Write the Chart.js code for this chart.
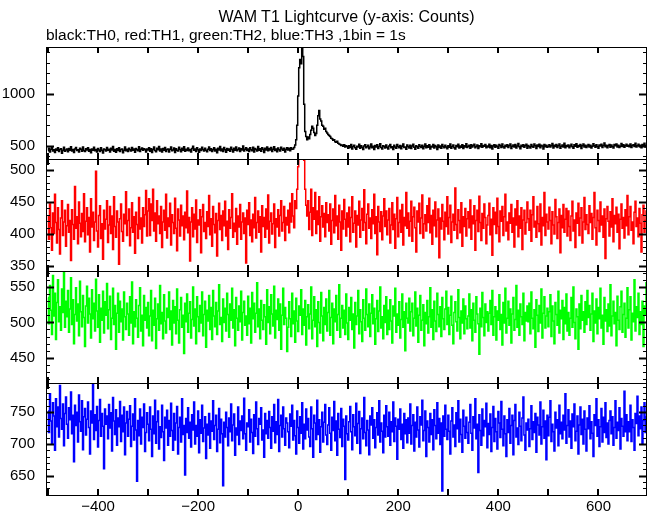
<!DOCTYPE html>
<html>
<head>
<meta charset="utf-8">
<title>WAM T1 Lightcurve</title>
<script src="https://cdn.jsdelivr.net/npm/chart.js@4.4.0/dist/chart.umd.min.js"></script>
<style>
  body { margin: 0; background: #fff; }
  #wrap { position: relative; width: 652px; height: 515px; font-family: "Liberation Sans", Arial, sans-serif; color: #000; }
  #title { position: absolute; left: 46px; width: 601px; top: 7px; text-align: center; font-size: 16px; line-height: 19px; }
  #sub { position: absolute; left: 46px; top: 25px; font-size: 15.5px; line-height: 19px; white-space: nowrap; }
  canvas { position: absolute; left: 0; top: 0; }
</style>
</head>
<body>
<div id="wrap">
  <canvas id="lc" width="652" height="515"></canvas>
  <div id="title">WAM T1 Lightcurve (y-axis: Counts)</div>
  <div id="sub">black:TH0, red:TH1, green:TH2, blue:TH3 ,1bin = 1s</div>
</div>
<script>
// counts, one value every 2 s starting at t = -500 s
var binStart = -500, binWidth = 2;

var th0 = [
  455, 478, 441, 468, 490, 452, 463, 437, 471, 459, 482, 446, 466, 474, 431, 458, 487, 449, 462, 470,
  444, 476, 459, 493, 451, 467, 438, 472, 485, 456, 463, 442, 479, 468, 450, 491, 457, 446, 473, 461,
  482, 449, 465, 436, 470, 458, 488, 453, 467, 441, 475, 462, 447, 484, 459, 433, 471, 464, 452, 486,
  458, 469, 443, 477, 461, 495, 450, 466, 439, 474, 457, 483, 448, 465, 472, 436, 460, 489, 454, 468,
  447, 479, 463, 452, 486, 459, 471, 440, 476, 464, 455, 492, 448, 469, 481, 458, 474, 466, 443, 470,
  461, 484, 450, 473, 438, 467, 489, 456, 445, 478, 463, 496, 452, 470, 441, 476, 459, 485, 448, 465,
  472, 443, 468, 490, 455, 462, 480, 437, 474, 458, 451, 487, 466, 445, 477, 460, 493, 449, 469, 456,
  481, 453, 466, 442, 475, 497, 459, 470, 448, 484, 463, 439, 472, 456, 488, 467, 451, 479, 460, 445,
  468, 490, 457, 474, 446, 463, 482, 452, 469, 436, 477, 461, 494, 455, 471, 448, 485, 464, 440, 476,
  459, 472, 449, 487, 465, 443, 478, 458, 491, 453, 467, 480, 446, 474, 462, 499, 451, 469, 483, 457,
  470, 447, 482, 463, 455, 488, 441, 476, 466, 452, 495, 460, 473, 449, 484, 468, 437, 479, 462, 490,
  454, 475, 461, 486, 448, 469, 493, 457, 472, 445, 481, 464, 452, 488, 470, 459, 477, 443, 466, 483,
  462, 478, 455, 484, 468, 470, 485, 510, 560, 700, 980, 1250, 1330, 1290, 1480, 1360, 900, 640, 590, 560,
  585, 570, 610, 650, 690, 670, 630, 600, 620, 700, 790, 840, 760, 740, 700, 690, 660, 670, 640, 625,
  610, 600, 590, 575, 570, 555, 560, 540, 535, 545, 525, 520, 515, 505, 510, 498, 512, 489, 503, 494,
  478, 501, 486, 514, 472, 495, 508, 483, 469, 497, 490, 516, 477, 503, 488, 465, 499, 511, 484, 493,
  506, 474, 491, 518, 482, 498, 467, 505, 489, 512, 476, 494, 521, 485, 470, 502, 496, 480, 509, 487,
  471, 499, 513, 484, 492, 466, 507, 490, 478, 515, 495, 482, 504, 473, 498, 519, 486, 491, 468, 510,
  494, 481, 506, 475, 500, 517, 488, 469, 503, 492, 479, 512, 497, 485, 508, 474, 496, 520, 483, 501,
  487, 511, 472, 498, 490, 515, 480, 505, 493, 467, 509, 486, 500, 478, 514, 495, 482, 506, 489, 473,
  502, 488, 519, 477, 496, 510, 484, 471, 505, 493, 516, 481, 499, 487, 512, 476, 503, 491, 522, 485,
  498, 506, 479, 512, 490, 503, 517, 484, 496, 509, 475, 501, 493, 522, 488, 505, 497, 514, 482, 500,
  491, 516, 483, 504, 470, 499, 511, 487, 508, 494, 478, 513, 501, 486, 520, 492, 480, 507, 496, 512,
  485, 502, 518, 476, 497, 509, 489, 514, 481, 500, 524, 492, 474, 506, 495, 511, 488, 503, 517, 479,
  505, 493, 481, 514, 498, 487, 520, 502, 476, 510, 495, 517, 484, 507, 499, 471, 513, 492, 506, 488,
  497, 512, 489, 503, 523, 480, 508, 494, 515, 486, 501, 519, 477, 498, 510, 491, 526, 484, 504, 496,
  509, 483, 500, 516, 492, 479, 511, 498, 521, 487, 505, 494, 513, 476, 502, 518, 490, 507, 485, 499,
  514, 490, 506, 481, 497, 522, 503, 488, 511, 495, 478, 509, 500, 517, 486, 504, 529, 493, 508, 482,
  501, 515, 487, 509, 496, 480, 513, 502, 519, 490, 506, 485, 498, 523, 494, 511, 488, 503, 516, 497,
  507, 492, 520, 485, 504, 511, 496, 525, 489, 502, 517, 494, 508, 483, 513, 499, 527, 491, 505, 510
];

var th1 = [
  428, 392, 447, 410, 375, 433, 401, 462, 418, 386, 441, 407, 369, 425, 452, 398, 419, 437, 381, 413,
  446, 403, 421, 359, 438, 415, 392, 474, 409, 427, 385, 450, 417, 396, 432, 404, 463, 388, 420, 441,
  399, 426, 372, 455, 411, 434, 390, 419, 498, 405, 380, 429, 444, 393, 416, 361, 437, 408, 423, 452,
  387, 414, 443, 401, 428, 376, 458, 412, 395, 436, 419, 353, 424, 447, 404, 389, 431, 416, 466, 398,
  421, 439, 382, 410, 449, 403, 427, 370, 434, 415, 393, 457, 408, 425, 386, 441, 412, 430, 468, 397,
  436, 455, 398, 447, 421, 470, 405, 433, 389, 452, 416, 428, 401, 443, 379, 419, 437, 406, 462, 394,
  425, 412, 448, 383, 430, 418, 401, 456, 409, 374, 439, 422, 397, 445, 413, 428, 391, 434, 410, 467,
  402, 426, 358, 419, 441, 396, 431, 408, 453, 387, 422, 414, 438, 371, 427, 446, 404, 418, 393, 435,
  412, 460, 399, 424, 381, 443, 415, 402, 432, 366, 421, 448, 407, 429, 390, 436, 413, 451, 397, 420,
  376, 438, 409, 426, 463, 395, 417, 404, 440, 384, 428, 411, 446, 392, 419, 433, 401, 425, 355, 437,
  415, 449, 398, 422, 388, 431, 410, 457, 394, 418, 436, 403, 427, 372, 444, 412, 426, 395, 439, 408,
  461, 386, 420, 433, 400, 416, 447, 379, 424, 411, 438, 397, 429, 452, 405, 418, 443, 390, 426, 414,
  437, 402, 448, 419, 463, 428, 410, 452, 440, 470, 505, 535, 520, 550, 530, 540, 515, 470, 445, 428,
  452, 407, 434, 470, 398, 441, 423, 465, 401, 436, 415, 458, 389, 427, 444, 411, 432, 396, 449, 418,
  430, 405, 447, 384, 421, 439, 402, 460, 413, 428, 392, 445, 419, 375, 436, 408, 454, 423, 397, 433,
  411, 442, 388, 426, 458, 403, 417, 436, 380, 429, 414, 451, 395, 422, 440, 406, 469, 418, 385, 431,
  447, 409, 425, 393, 438, 416, 462, 401, 427, 368, 443, 419, 404, 435, 391, 428, 455, 412, 436, 399,
  422, 440, 386, 414, 449, 407, 431, 378, 424, 457, 396, 418, 437, 403, 446, 383, 426, 413, 465, 409,
  433, 397, 420, 451, 389, 427, 442, 410, 372, 436, 419, 448, 401, 425, 461, 394, 416, 430, 405, 444,
  418, 456, 402, 429, 384, 437, 413, 450, 396, 422, 439, 363, 425, 408, 446, 420, 391, 434, 412, 458,
  400, 426, 445, 387, 419, 431, 406, 472, 415, 393, 438, 421, 402, 449, 381, 427, 412, 440, 397, 424,
  435, 410, 453, 392, 428, 416, 444, 375, 421, 437, 404, 459, 418, 390, 432, 409, 447, 426, 385, 414,
  429, 448, 399, 423, 367, 441, 415, 434, 401, 456, 412, 388, 436, 420, 443, 398, 427, 462, 405, 419,
  391, 433, 417, 446, 403, 425, 380, 439, 414, 452, 396, 428, 409, 441, 376, 422, 437, 400, 418, 450,
  424, 406, 437, 389, 430, 458, 411, 420, 395, 443, 416, 404, 447, 383, 426, 413, 465, 398, 431, 419,
  408, 442, 421, 385, 435, 414, 400, 454, 427, 393, 418, 439, 371, 429, 410, 446, 403, 423, 440, 397,
  436, 412, 390, 428, 451, 405, 422, 379, 433, 417, 448, 398, 425, 441, 386, 419, 457, 407, 430, 415,
  401, 444, 418, 432, 392, 426, 465, 410, 383, 437, 421, 404, 450, 414, 428, 395, 439, 362, 424, 443,
  420, 397, 435, 411, 455, 388, 429, 416, 442, 403, 431, 377, 423, 447, 409, 426, 394, 438, 413, 460,
  399, 427, 443, 406, 419, 385, 434, 451, 412, 425, 396, 440, 417, 372, 430, 445, 403, 421, 436, 408
];

var th2 = [
  535, 498, 552, 517, 483, 566, 509, 541, 476, 528, 560, 501, 522, 489, 547, 514, 575, 493, 530, 508,
  545, 486, 519, 563, 497, 532, 470, 511, 549, 502, 526, 481, 558, 515, 494, 538, 507, 466, 523, 551,
  499, 534, 512, 478, 546, 505, 527, 488, 561, 516, 493, 539, 472, 520, 503, 544, 485, 529, 510, 555,
  491, 518, 537, 476, 506, 548, 497, 524, 462, 513, 541, 486, 530, 501, 519, 475, 543, 508, 490, 527,
  512, 482, 536, 499, 557, 470, 515, 494, 532, 506, 479, 524, 549, 488, 510, 467, 538, 503, 521, 492,
  528, 481, 509, 545, 474, 517, 496, 534, 463, 505, 526, 489, 552, 498, 514, 477, 539, 502, 485, 520,
  507, 543, 490, 516, 468, 531, 499, 522, 484, 547, 503, 471, 518, 535, 493, 510, 456, 527, 501, 540,
  486, 513, 529, 478, 504, 550, 495, 519, 470, 536, 508, 487, 524, 499, 543, 481, 511, 530, 465, 517,
  502, 538, 490, 521, 476, 545, 509, 494, 528, 483, 516, 553, 497, 507, 473, 533, 500, 520, 488, 541,
  511, 479, 526, 503, 548, 492, 518, 467, 535, 506, 489, 523, 501, 544, 475, 514, 530, 496, 509, 482,
  537, 498, 520, 471, 542, 505, 527, 486, 513, 556, 494, 519, 477, 531, 503, 490, 525, 508, 469, 546,
  500, 522, 484, 539, 512, 495, 551, 478, 517, 504, 533, 489, 526, 462, 510, 548, 497, 521, 506, 459,
  493, 529, 505, 480, 541, 498, 516, 472, 534, 502, 487, 523, 510, 546, 483, 519, 496, 531, 468, 508,
  525, 491, 512, 550, 477, 503, 536, 494, 518, 466, 529, 500, 485, 542, 509, 474, 521, 497, 533, 488,
  514, 545, 482, 507, 527, 470, 519, 501, 538, 489, 511, 553, 479, 506, 524, 492, 517, 483, 540, 499,
  476, 521, 503, 535, 490, 512, 464, 528, 497, 509, 545, 484, 518, 501, 473, 532, 506, 489, 547, 511,
  494, 526, 480, 513, 539, 498, 520, 469, 505, 531, 487, 516, 550, 492, 508, 477, 524, 500, 536, 483,
  517, 490, 532, 502, 471, 523, 509, 548, 486, 512, 496, 529, 478, 504, 540, 493, 515, 460, 527, 506,
  499, 534, 488, 515, 527, 481, 506, 543, 495, 520, 472, 510, 538, 489, 503, 525, 467, 514, 498, 531,
  485, 508, 549, 493, 518, 476, 530, 502, 487, 541, 511, 494, 522, 480, 535, 505, 490, 519, 544, 497,
  521, 483, 510, 537, 496, 470, 514, 529, 501, 488, 546, 507, 477, 516, 499, 533, 484, 523, 505, 491,
  509, 540, 492, 518, 474, 527, 503, 486, 536, 512, 498, 455, 520, 494, 542, 507, 481, 526, 500, 515,
  488, 513, 531, 497, 545, 482, 508, 522, 475, 516, 503, 539, 490, 511, 468, 528, 499, 548, 485, 506,
  530, 496, 519, 471, 512, 535, 489, 504, 552, 493, 517, 482, 526, 508, 497, 541, 474, 514, 502, 523,
  501, 527, 484, 543, 506, 491, 518, 465, 532, 510, 487, 524, 499, 547, 478, 513, 536, 492, 509, 520,
  494, 515, 539, 480, 523, 502, 470, 528, 511, 496, 544, 485, 517, 505, 531, 476, 521, 498, 540, 488,
  514, 482, 506, 535, 493, 550, 500, 477, 519, 508, 462, 526, 491, 538, 503, 515, 486, 529, 497, 545,
  507, 524, 489, 512, 541, 473, 516, 499, 533, 484, 521, 505, 548, 492, 510, 469, 535, 502, 518, 487,
  526, 495, 553, 481, 509, 530, 498, 514, 467, 537, 503, 490, 522, 544, 486, 511, 527, 479, 506, 549,
  492, 518, 536, 475, 513, 501, 560, 488, 522, 507, 541, 483, 515, 497, 530, 466, 523, 510, 556, 499
];

var th3 = [
  752, 718, 779, 736, 701, 765, 744, 690, 771, 727, 758, 711, 792, 740, 723, 763, 697, 748, 774, 731,
  709, 757, 738, 782, 716, 745, 672, 761, 729, 750, 703, 777, 735, 720, 768, 691, 743, 756, 714, 739,
  766, 726, 684, 752, 733, 798, 707, 746, 721, 759, 695, 737, 770, 712, 748, 728, 661, 755, 731, 744,
  708, 762, 725, 749, 689, 773, 736, 715, 754, 698, 741, 727, 767, 704, 745, 719, 758, 683, 733, 751,
  712, 739, 760, 696, 728, 747, 706, 771, 722, 641, 737, 713, 755, 700, 742, 726, 763, 688, 718, 749,
  731, 705, 758, 723, 680, 744, 716, 769, 701, 735, 752, 692, 727, 710, 761, 719, 674, 742, 725, 753,
  698, 737, 712, 764, 721, 690, 748, 706, 733, 759, 684, 726, 742, 703, 771, 715, 729, 651, 740, 718,
  757, 709, 734, 695, 746, 722, 766, 700, 729, 712, 752, 686, 738, 717, 761, 704, 725, 743, 677, 731,
  714, 748, 693, 736, 720, 768, 707, 729, 745, 688, 723, 756, 702, 739, 716, 634, 734, 711, 750, 726,
  697, 741, 719, 763, 705, 730, 747, 682, 725, 714, 758, 699, 736, 721, 744, 708, 772, 716, 690, 733,
  727, 754, 703, 739, 718, 685, 746, 712, 766, 724, 699, 740, 731, 757, 706, 722, 679, 748, 716, 737,
  709, 751, 726, 693, 743, 720, 762, 702, 735, 715, 770, 688, 729, 745, 711, 758, 724, 698, 741, 733,
  719, 694, 747, 728, 761, 706, 737, 713, 684, 752, 726, 701, 743, 717, 765, 692, 731, 708, 755, 722,
  740, 711, 696, 758, 724, 679, 745, 733, 707, 769, 715, 738, 687, 727, 750, 703, 734, 762, 714, 699,
  730, 757, 717, 690, 742, 721, 767, 705, 736, 682, 748, 723, 710, 756, 696, 739, 728, 644, 744, 716,
  706, 735, 759, 719, 691, 746, 727, 713, 764, 701, 732, 751, 685, 724, 741, 708, 773, 718, 697, 737,
  722, 683, 744, 730, 757, 709, 738, 694, 726, 749, 714, 768, 703, 733, 720, 686, 745, 711, 760, 727,
  712, 750, 698, 735, 719, 766, 704, 741, 728, 676, 739, 723, 755, 707, 731, 693, 748, 716, 738, 702,
  741, 717, 763, 700, 729, 746, 689, 734, 711, 758, 722, 695, 743, 730, 769, 705, 721, 752, 680, 736,
  726, 703, 748, 715, 738, 691, 754, 729, 708, 765, 717, 740, 699, 733, 626, 744, 712, 761, 723, 707,
  745, 720, 684, 736, 757, 711, 730, 696, 749, 724, 768, 703, 739, 715, 687, 753, 728, 709, 742, 718,
  701, 734, 762, 717, 690, 743, 725, 771, 708, 731, 655, 746, 721, 698, 755, 713, 737, 727, 764, 694,
  732, 715, 747, 688, 726, 759, 704, 740, 719, 692, 751, 733, 710, 767, 723, 697, 744, 716, 680, 738,
  718, 756, 701, 729, 745, 683, 737, 762, 711, 725, 699, 750, 728, 705, 741, 774, 714, 690, 733, 722,
  739, 696, 724, 760, 707, 735, 718, 748, 687, 742, 730, 714, 766, 700, 727, 753, 709, 736, 675, 745,
  713, 742, 768, 704, 731, 719, 689, 750, 725, 738, 697, 761, 716, 734, 708, 745, 722, 779, 701, 729,
  754, 711, 736, 693, 747, 727, 763, 705, 720, 744, 684, 730, 758, 715, 739, 700, 752, 723, 689, 741,
  724, 760, 708, 735, 717, 680, 746, 729, 771, 712, 738, 696, 727, 756, 703, 742, 718, 765, 710, 733,
  700, 737, 752, 716, 743, 698, 726, 768, 709, 734, 721, 757, 692, 740, 728, 712, 783, 719, 746, 705,
  735, 719, 761, 704, 738, 726, 690, 748, 732, 775, 713, 744, 724, 758, 701, 737, 765, 718, 743, 729
];

// tick labels
var xTickLabels = [-400, -200, 0, 200, 400, 600];
var xTickMarks = [-500, -400, -300, -200, -100, 0, 100, 200, 300, 400, 500, 600];
var th0Ticks = [500, 1000];
var th1Ticks = [350, 400, 450, 500];
var th2Ticks = [450, 500, 550];
var th3Ticks = [650, 700, 750];

// panels, top to bottom
var panels = [
  { id: 'y0', data: th0, color: '#000000', min: 375, max: 1450, ticks: th0Ticks, minor: 100 },
  { id: 'y1', data: th1, color: '#ff0000', min: 342.5, max: 517, ticks: th1Ticks, minor: 10 },
  { id: 'y2', data: th2, color: '#00ff00', min: 414.5, max: 572.5, ticks: th2Ticks, minor: 10 },
  { id: 'y3', data: th3, color: '#0000ff', min: 619.5, max: 796, ticks: th3Ticks, minor: 10 }
];

function toPoints(arr) {
  return arr.map(function (v, i) { return { x: binStart + i * binWidth, y: v }; });
}

var tickFont = { family: '"Liberation Sans", Arial, sans-serif', size: 15 };

var scales = {
  x: {
    type: 'linear',
    min: -504,
    max: 697,
    grid: { display: false, drawTicks: false },
    border: { display: false },
    afterBuildTicks: function (s) { s.ticks = xTickLabels.map(function (v) { return { value: v }; }); },
    afterFit: function (s) { s.height = 19; },
    ticks: {
      autoSkip: false, maxRotation: 0, padding: 3, color: '#000', font: tickFont,
      callback: function (v) { return v < 0 ? '\u2212' + Math.abs(v) : String(v); }
    }
  }
};

// stacked y axes: the last one defined ends up on top
panels.slice().reverse().forEach(function (p) {
  scales[p.id] = {
    type: 'linear',
    position: 'left',
    stack: 'lc',
    stackWeight: 1,
    min: p.min,
    max: p.max,
    grid: { display: false, drawTicks: false },
    border: { display: false },
    afterBuildTicks: function (s) { s.ticks = p.ticks.map(function (v) { return { value: v }; }); },
    afterFit: function (s) { s.width = 46; },
    ticks: {
      autoSkip: false, padding: 11, color: '#000', font: tickFont,
      callback: function (v) { return String(v); }
    }
  };
});

// keep each curve inside its own panel
var panelClip = {
  id: 'panelClip',
  beforeDatasetDraw: function (chart, args) {
    var ys = chart.scales[args.meta.yAxisID], a = chart.chartArea, ctx = chart.ctx;
    ctx.save();
    ctx.beginPath();
    ctx.rect(a.left, ys.top, a.right - a.left, ys.bottom - ys.top);
    ctx.clip();
  },
  afterDatasetDraw: function (chart) { chart.ctx.restore(); }
};

// boxes and inward ticks on every side of each panel
var frames = {
  id: 'frames',
  afterDatasetsDraw: function (chart) {
    var ctx = chart.ctx, a = chart.chartArea, xs = chart.scales.x;
    var L = a.left, R = a.right;
    ctx.save();
    ctx.strokeStyle = '#000';
    panels.forEach(function (p) {
      var ys = chart.scales[p.id];
      var top = Math.round(ys.top), bot = Math.round(ys.bottom);
      ctx.lineWidth = 1;
      ctx.strokeRect(L + 0.5, top + 0.5, R - L - 1, bot - top);

      for (var v = Math.ceil(p.min / p.minor) * p.minor; v <= p.max; v += p.minor) {
        var y = Math.round(ys.getPixelForValue(v)) + 0.5;
        var major = p.ticks.indexOf(v) >= 0;
        var len = major ? 8 : 4;
        ctx.lineWidth = major ? 2 : 1;
        ctx.beginPath();
        ctx.moveTo(L, y); ctx.lineTo(L + len, y);
        ctx.moveTo(R, y); ctx.lineTo(R - len, y);
        ctx.stroke();
      }

      ctx.lineWidth = 2;
      xTickMarks.forEach(function (t) {
        var x = Math.round(xs.getPixelForValue(t));
        ctx.beginPath();
        ctx.moveTo(x, top); ctx.lineTo(x, top + 6);
        ctx.moveTo(x, bot); ctx.lineTo(x, bot - 6);
        ctx.stroke();
      });
    });
    ctx.restore();
  }
};

var ctx = document.getElementById('lc').getContext('2d');
var lcChart = new Chart(ctx, {
  type: 'line',
  data: {
    datasets: panels.map(function (p) {
      return {
        label: p.id,
        data: toPoints(p.data),
        yAxisID: p.id,
        borderColor: p.color,
        borderWidth: 1.5,
        pointRadius: 0,
        stepped: 'middle',
        fill: false
      };
    })
  },
  options: {
    responsive: false,
    animation: false,
    devicePixelRatio: 1,
    layout: { padding: { top: 47, right: 5, bottom: 0, left: 0 } },
    plugins: { legend: { display: false }, title: { display: false }, tooltip: { enabled: false } },
    scales: scales
  },
  plugins: [panelClip, frames]
});
</script>
</body>
</html>
